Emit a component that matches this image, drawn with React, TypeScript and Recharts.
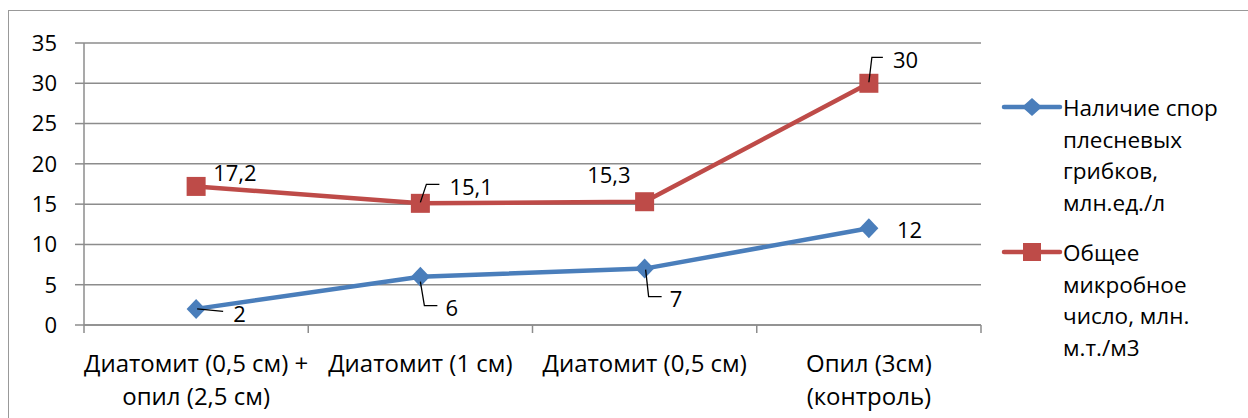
import React from 'react';
import { LineChart, Line, XAxis, YAxis, CartesianGrid, Legend, LabelList } from 'recharts';

const categories = [
  ['Диатомит (0,5 см) +', 'опил (2,5 см)'],
  ['Диатомит (1 см)'],
  ['Диатомит (0,5 см)'],
  ['Опил (3см)', '(контроль)'],
];
const sporeCounts = [2, 6, 7, 12];
const microbialCounts = [17.2, 15.1, 15.3, 30];
const yTicks = [0, 5, 10, 15, 20, 25, 30, 35];
// tick marks sit between categories, labels at category centres
const xTicks = [-0.5, 0, 0.5, 1, 1.5, 2, 2.5, 3, 3.5];

const sporeLegend = ['Наличие спор', 'плесневых', 'грибков,', 'млн.ед./л'];
const microbialLegend = ['Общее', 'микробное', 'число, млн.', 'м.т./м3'];

const BLUE = '#4A7EBB';
const RED = '#BE4B48';
const GRID = '#8c8c8c';
const FONT = '"Open Sans", "Noto Sans", sans-serif';
const FONT_SIZE = 22;

const rows = sporeCounts.map((v, i) => ({ pos: i, spores: v, microbial: microbialCounts[i] }));

type Spot = { dx: number; dy: number; anchor?: 'start' | 'end'; leader?: [number, number][] };

const sporeSpots: Spot[] = [
  { dx: 37, dy: 4, leader: [[1, 0], [27, 2.5]] },
  { dx: 25, dy: 30, leader: [[0, 5], [4, 29], [17, 29]] },
  { dx: 25, dy: 29, leader: [[1, 1], [4, 28], [17, 28]] },
  { dx: 28, dy: 1 },
];
const microbialSpots: Spot[] = [
  { dx: 17, dy: -14 },
  { dx: 29, dy: -17, leader: [[0, -1], [6, -19], [19, -19]] },
  { dx: -14, dy: -28, anchor: 'end' },
  { dx: 24, dy: -24, leader: [[0, -1], [3, -26], [14, -26]] },
];

const fmt = (v: number) => String(v).replace('.', ',');

const makeLabel = (spots: Spot[]) => (props: any) => {
  const { x, y, value, index } = props;
  const s = spots[index];
  if (!s || x == null) return null;
  return (
    <g>
      {s.leader && (
        <polyline
          points={s.leader.map(([a, b]) => `${x + a},${y + b}`).join(' ')}
          fill="none"
          stroke="#000"
          strokeWidth={1.3}
        />
      )}
      <text
        x={x + s.dx}
        y={y + s.dy}
        textAnchor={s.anchor || 'start'}
        dominantBaseline="central"
        fontFamily={FONT}
        fontSize={FONT_SIZE}
        fill="#000"
      >
        {fmt(value)}
      </text>
    </g>
  );
};

const Diamond = (props: any) => {
  const { cx, cy, index } = props;
  if (cx == null) return null;
  return <path key={index} d={`M${cx},${cy - 10} L${cx + 9.5},${cy} L${cx},${cy + 10} L${cx - 9.5},${cy} Z`} fill={BLUE} />;
};

const Square = (props: any) => {
  const { cx, cy, index } = props;
  if (cx == null) return null;
  return <rect key={index} x={cx - 9.5} y={cy - 9.5} width={19} height={19} fill={RED} />;
};

const CategoryTick = (props: any) => {
  const { x, y, payload } = props;
  const v = payload.value;
  if (!Number.isInteger(v)) {
    return <line x1={x} y1={y} x2={x} y2={y + 8} stroke={GRID} strokeWidth={1.5} />;
  }
  const lines = categories[v] || [];
  return (
    <text x={x} y={y + 37} textAnchor="middle" dominantBaseline="central" fontFamily={FONT} fontSize={24} fill="#000">
      {lines.map((t, i) => (
        <tspan key={i} x={x} dy={i === 0 ? 0 : 33}>
          {t}
        </tspan>
      ))}
    </text>
  );
};

const LegendBox = () => {
  const entries = [
    { lines: sporeLegend, color: BLUE, top: 27, marker: 'diamond' },
    { lines: microbialLegend, color: RED, top: 172, marker: 'square' },
  ];
  return (
    <svg width={240} height={300} style={{ overflow: 'visible' }}>
      {entries.map((e, k) => (
        <g key={k}>
          <line x1={10} y1={e.top} x2={66} y2={e.top} stroke={e.color} strokeWidth={4.5} strokeLinecap="round" />
          {e.marker === 'diamond' ? (
            <path d={`M38,${e.top - 9} L48,${e.top} L38,${e.top + 9} L28,${e.top} Z`} fill={e.color} />
          ) : (
            <rect x={29} y={e.top - 9} width={18} height={18} fill={e.color} />
          )}
          <text x={69} y={e.top} dominantBaseline="central" fontFamily={FONT} fontSize={22.5} fill="#000">
            {e.lines.map((t, i) => (
              <tspan key={i} x={69} dy={i === 0 ? 0 : 31.5}>
                {t}
              </tspan>
            ))}
          </text>
        </g>
      ))}
    </svg>
  );
};

export default function App() {
  return (
    <div style={{ position: 'relative', width: 1248, height: 418, overflow: 'hidden', background: '#fff' }}>
      <style>{'body{margin:0;overflow:hidden}'}</style>
      <div
        style={{
          position: 'absolute',
          left: 8,
          top: 10,
          width: 1300,
          height: 500,
          borderTop: '1.5px solid #999',
          borderLeft: '1.5px solid #999',
        }}
      />
      <div style={{ position: 'absolute', left: 0, top: 0 }}>
        {/* the legend's 240px width is taken off the right margin by the chart */}
        <LineChart width={1248} height={418} data={rows} margin={{ top: 43, right: 27, bottom: 0, left: 14 }}>
          <CartesianGrid vertical={false} stroke={GRID} strokeWidth={1.5} />
          <XAxis
            dataKey="pos"
            type="number"
            domain={[-0.5, 3.5]}
            ticks={xTicks}
            interval={0}
            height={93}
            tickLine={false}
            tickSize={0}
            tickMargin={0}
            axisLine={{ stroke: GRID, strokeWidth: 1.5 }}
            tick={<CategoryTick />}
          />
          <YAxis
            width={70}
            domain={[0, 35]}
            ticks={yTicks}
            interval={0}
            tickSize={9}
            tickMargin={18}
            axisLine={{ stroke: GRID, strokeWidth: 1.5 }}
            tickLine={{ stroke: GRID, strokeWidth: 1.5 }}
            tick={{ fill: '#000', fontFamily: FONT, fontSize: FONT_SIZE }}
          />
          <Legend
            layout="horizontal"
            verticalAlign="middle"
            align="right"
            wrapperStyle={{ left: 994, top: 80, width: 240, height: 300 }}
            content={() => <LegendBox />}
          />
          <Line
            dataKey="spores"
            name="Наличие спор плесневых грибков, млн.ед./л"
            stroke={BLUE}
            strokeWidth={4.5}
            strokeLinejoin="round"
            dot={Diamond}
            isAnimationActive={false}
          >
            <LabelList dataKey="spores" content={makeLabel(sporeSpots)} />
          </Line>
          <Line
            dataKey="microbial"
            name="Общее микробное число, млн. м.т./м3"
            stroke={RED}
            strokeWidth={4.5}
            strokeLinejoin="round"
            dot={Square}
            isAnimationActive={false}
          >
            <LabelList dataKey="microbial" content={makeLabel(microbialSpots)} />
          </Line>
        </LineChart>
      </div>
    </div>
  );
}
